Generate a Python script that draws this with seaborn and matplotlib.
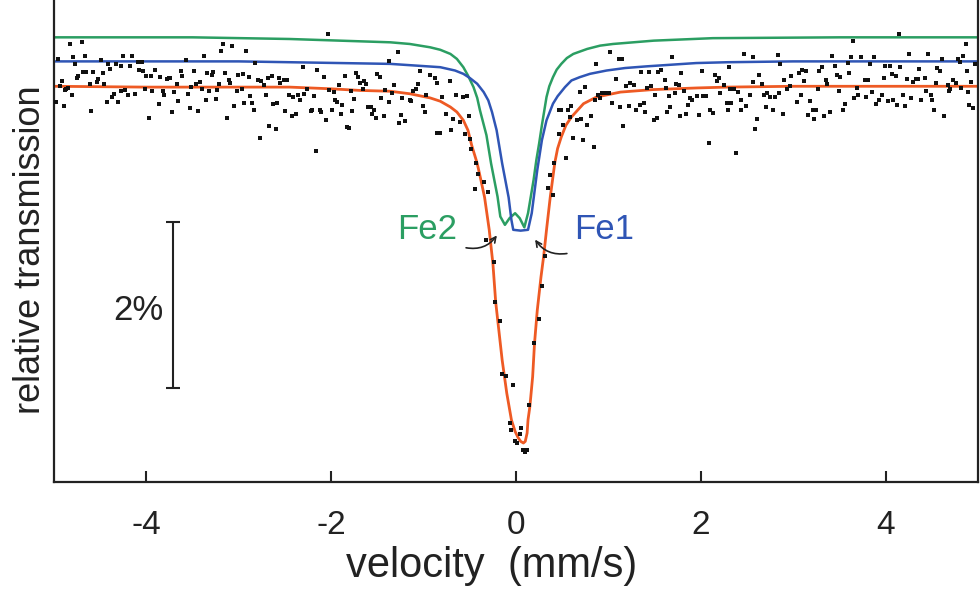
import matplotlib
matplotlib.use('Agg')
import matplotlib.pyplot as plt
import seaborn as sns
import pandas as pd

# measured spectrum: velocity (mm/s) and relative transmission (%)
vel = [
    -4.98, -4.96, -4.93, -4.91, -4.89, -4.88, -4.87, -4.85, -4.83, -4.81,
    -4.79, -4.77, -4.75, -4.74, -4.70, -4.69, -4.66, -4.65, -4.61, -4.60,
    -4.58, -4.54, -4.52, -4.49, -4.47, -4.46, -4.43, -4.42, -4.39, -4.37,
    -4.35, -4.33, -4.31, -4.28, -4.27, -4.25, -4.23, -4.20, -4.18, -4.16,
    -4.12, -4.09, -4.08, -4.05, -4.04, -4.02, -4.00, -3.97, -3.95, -3.94,
    -3.91, -3.86, -3.85, -3.82, -3.81, -3.78, -3.76, -3.74, -3.72, -3.70,
    -3.67, -3.66, -3.63, -3.62, -3.57, -3.55, -3.53, -3.52, -3.48, -3.46,
    -3.44, -3.42, -3.40, -3.38, -3.36, -3.34, -3.32, -3.29, -3.28, -3.25,
    -3.24, -3.21, -3.19, -3.17, -3.15, -3.13, -3.11, -3.09, -3.07, -3.05,
    -3.02, -3.01, -2.97, -2.96, -2.94, -2.92, -2.89, -2.88, -2.86, -2.84,
    -2.82, -2.79, -2.77, -2.76, -2.73, -2.71, -2.68, -2.67, -2.64, -2.63,
    -2.60, -2.59, -2.56, -2.55, -2.51, -2.50, -2.48, -2.46, -2.42, -2.41,
    -2.38, -2.36, -2.34, -2.31, -2.29, -2.26, -2.22, -2.21, -2.19, -2.17,
    -2.15, -2.12, -2.11, -2.08, -2.06, -2.04, -2.02, -1.99, -1.97, -1.96,
    -1.94, -1.92, -1.89, -1.88, -1.85, -1.83, -1.81, -1.79, -1.77, -1.75,
    -1.73, -1.71, -1.69, -1.66, -1.65, -1.62, -1.60, -1.57, -1.56, -1.54,
    -1.52, -1.50, -1.47, -1.46, -1.43, -1.42, -1.38, -1.37, -1.34, -1.32,
    -1.28, -1.27, -1.24, -1.23, -1.20, -1.15, -1.14, -1.12, -1.08, -1.06,
    -1.04, -1.01, -0.99, -0.97, -0.93, -0.88, -0.86, -0.85, -0.82, -0.80,
    -0.76, -0.71, -0.70, -0.68, -0.65, -0.61, -0.57, -0.55, -0.53, -0.51,
    -0.50, -0.49, -0.44, -0.43, -0.41, -0.35, -0.32, -0.30, -0.24, -0.23,
    -0.17, -0.15, -0.11, -0.06, -0.05, -0.03, -0.01, 0.01, 0.04, 0.05,
    0.08, 0.10, 0.12, 0.14, 0.20, 0.25, 0.28, 0.31, 0.35, 0.37,
    0.40, 0.41, 0.46, 0.47, 0.49, 0.51, 0.54, 0.56, 0.58, 0.60,
    0.62, 0.66, 0.69, 0.70, 0.73, 0.75, 0.77, 0.81, 0.84, 0.85,
    0.87, 0.89, 0.91, 0.93, 0.96, 1.01, 1.02, 1.04, 1.08, 1.11,
    1.13, 1.15, 1.16, 1.19, 1.22, 1.23, 1.28, 1.30, 1.34, 1.35,
    1.39, 1.40, 1.42, 1.44, 1.46, 1.49, 1.50, 1.53, 1.54, 1.57,
    1.61, 1.62, 1.63, 1.66, 1.67, 1.69, 1.72, 1.73, 1.76, 1.77,
    1.79, 1.82, 1.84, 1.86, 1.88, 1.90, 1.96, 1.98, 2.01, 2.02,
    2.06, 2.09, 2.10, 2.13, 2.15, 2.18, 2.20, 2.21, 2.25, 2.28,
    2.29, 2.30, 2.32, 2.33, 2.36, 2.38, 2.40, 2.43, 2.44, 2.47,
    2.49, 2.53, 2.56, 2.57, 2.59, 2.61, 2.63, 2.66, 2.68, 2.71,
    2.72, 2.75, 2.78, 2.80, 2.83, 2.85, 2.86, 2.89, 2.90, 2.93,
    2.97, 2.98, 3.04, 3.06, 3.08, 3.09, 3.12, 3.14, 3.16, 3.18,
    3.21, 3.23, 3.25, 3.27, 3.28, 3.31, 3.33, 3.35, 3.37, 3.40,
    3.42, 3.45, 3.47, 3.50, 3.51, 3.54, 3.56, 3.59, 3.60, 3.62,
    3.65, 3.66, 3.69, 3.70, 3.73, 3.78, 3.79, 3.81, 3.83, 3.85,
    3.87, 3.90, 3.93, 3.96, 3.98, 3.99, 4.03, 4.05, 4.07, 4.08,
    4.11, 4.12, 4.15, 4.16, 4.19, 4.21, 4.23, 4.25, 4.27, 4.30,
    4.33, 4.35, 4.36, 4.38, 4.43, 4.44, 4.46, 4.49, 4.50, 4.52,
    4.55, 4.56, 4.59, 4.61, 4.63, 4.68, 4.69, 4.70, 4.73, 4.76,
    4.78, 4.80, 4.82, 4.84, 4.87, 4.88, 4.89, 4.90, 4.92, 4.95, 4.97,
]
trans = [
    99.81, 100.33, 100.00, 100.06, 99.76, 99.96, 99.97, 99.98, 100.51, 99.90,
    100.35, 100.27, 100.10, 100.12, 100.53, 100.17, 100.37, 100.17, 100.03, 99.70,
    100.17, 100.05, 100.09, 100.32, 100.16, 100.03, 99.81, 100.27, 100.21, 99.87,
    99.91, 100.27, 99.81, 99.94, 100.24, 100.37, 99.96, 99.89, 100.25, 100.37,
    99.91, 100.29, 100.20, 100.29, 100.18, 99.97, 100.12, 99.62, 100.12, 99.94,
    100.20, 99.79, 100.11, 99.94, 99.89, 100.09, 100.10, 100.10, 99.69, 99.93,
    100.03, 99.82, 100.18, 100.12, 100.32, 99.91, 99.74, 99.99, 100.18, 100.03,
    99.70, 100.05, 99.97, 100.37, 99.83, 100.16, 99.94, 100.14, 100.17, 99.85,
    99.95, 100.03, 100.43, 100.51, 100.16, 99.62, 100.08, 100.04, 100.49, 99.76,
    99.94, 100.14, 99.97, 100.15, 99.80, 100.43, 100.11, 99.88, 99.80, 99.72,
    100.28, 100.07, 99.38, 100.06, 100.01, 99.90, 100.10, 99.52, 100.12, 99.79,
    99.49, 99.80, 100.10, 100.04, 100.08, 99.70, 100.08, 99.90, 99.64, 99.87,
    99.66, 99.89, 99.83, 100.23, 99.91, 99.97, 99.70, 99.72, 99.88, 99.22,
    100.20, 99.71, 99.69, 100.11, 99.59, 100.63, 99.95, 99.71, 99.93, 99.83,
    99.81, 100.01, 99.66, 99.77, 100.12, 99.51, 99.50, 99.94, 99.70, 99.85,
    100.16, 100.11, 100.04, 99.97, 100.06, 100.03, 99.75, 99.75, 99.66, 99.72,
    99.62, 100.15, 100.11, 99.86, 99.64, 99.96, 99.81, 100.31, 99.92, 100.01,
    100.41, 99.56, 99.65, 99.86, 99.58, 99.83, 99.82, 99.94, 99.97, 100.03,
    100.18, 99.76, 99.69, 99.90, 100.14, 100.10, 99.44, 100.04, 99.44, 99.87,
    99.67, 100.06, 99.47, 99.60, 99.90, 99.57, 99.87, 99.43, 99.88, 99.64,
    99.36, 99.24, 98.76, 99.07, 98.94, 98.85, 98.15, 98.73, 97.88, 97.40,
    97.17, 96.53, 96.51, 95.94, 95.86, 96.40, 95.73, 95.70, 95.81, 95.88,
    95.61, 95.59, 95.61, 96.16, 96.91, 97.20, 97.59, 97.96, 98.77, 98.93,
    98.69, 99.08, 99.72, 99.43, 99.72, 99.53, 99.13, 99.71, 99.63, 99.76,
    99.38, 99.59, 99.93, 99.61, 99.35, 99.99, 99.53, 99.64, 99.27, 99.83,
    100.27, 99.90, 99.86, 99.92, 99.92, 99.92, 100.41, 99.80, 100.09, 100.33,
    99.75, 100.33, 99.52, 100.00, 99.76, 100.04, 100.02, 99.72, 99.78, 100.17,
    99.80, 99.69, 99.98, 100.17, 100.00, 99.59, 99.90, 99.62, 100.17, 100.20,
    100.07, 99.98, 99.69, 99.88, 99.75, 100.35, 99.92, 100.03, 100.01, 99.64,
    100.16, 99.94, 99.66, 99.78, 99.86, 99.83, 99.88, 99.65, 100.18, 99.88,
    99.88, 99.32, 99.71, 99.68, 100.14, 100.06, 100.10, 99.92, 100.01, 99.80,
    99.72, 100.23, 99.97, 99.80, 99.97, 99.20, 99.93, 99.72, 99.83, 100.39,
    99.76, 99.90, 100.35, 100.05, 99.48, 99.61, 100.14, 100.03, 99.90, 99.75,
    99.92, 99.87, 99.72, 99.87, 100.38, 99.92, 100.27, 99.66, 100.07, 99.97,
    100.00, 100.12, 99.81, 100.16, 99.90, 100.20, 100.06, 100.18, 99.65, 99.82,
    99.72, 99.60, 99.72, 99.97, 100.18, 100.23, 99.64, 100.08, 100.03, 99.69,
    100.37, 100.25, 100.14, 99.94, 100.11, 99.72, 99.79, 100.28, 100.16, 100.35,
    100.55, 99.86, 99.98, 99.89, 100.35, 100.07, 99.87, 100.07, 100.27, 99.93,
    100.35, 99.79, 99.83, 99.90, 100.10, 100.25, 99.82, 100.25, 100.15, 99.83,
    100.12, 99.77, 100.63, 100.23, 99.90, 99.76, 100.09, 100.39, 99.86, 100.05,
    100.09, 100.09, 100.21, 99.84, 100.10, 99.94, 100.39, 99.89, 99.83, 99.71,
    100.04, 100.22, 100.18, 100.33, 99.64, 100.01, 99.94, 99.97, 100.07, 100.04,
    100.33, 100.29, 99.98, 100.37, 100.51, 100.19, 99.93, 99.77, 100.05, 99.74, 100.27,
]

# fitted curves
total_v = [-5.0, -4.0, -3.0, -2.45, -2.01, -1.69, -1.36, -1.15, -0.93, -0.82,
           -0.71, -0.64, -0.57, -0.52, -0.48, -0.42, -0.38, -0.34, -0.29, -0.25,
           -0.22, -0.15, -0.10, -0.05, -0.01, 0.02, 0.05, 0.08, 0.10, 0.12,
           0.13, 0.15, 0.18, 0.20, 0.23, 0.27, 0.30, 0.33, 0.37, 0.42,
           0.45, 0.49, 0.54, 0.60, 0.73, 0.87, 1.13, 1.48, 1.96, 2.28,
           3.0, 4.0, 5.0]
total_t = [100.00, 99.99, 99.99, 99.99, 99.97, 99.95, 99.94, 99.91, 99.86, 99.82,
           99.75, 99.69, 99.59, 99.47, 99.29, 99.07, 98.87, 98.66, 98.27, 97.86,
           97.40, 96.70, 96.30, 95.98, 95.84, 95.77, 95.72, 95.70, 95.72, 95.82,
           95.98, 96.14, 96.50, 96.90, 97.30, 97.70, 97.96, 98.27, 98.66, 99.08,
           99.25, 99.39, 99.53, 99.63, 99.79, 99.87, 99.93, 99.96, 99.98, 99.99,
           100.00, 100.00, 100.00]

fe1_v = [-5.0, -3.0, -2.45, -1.36, -0.82, -0.66, -0.57, -0.50, -0.42, -0.35,
         -0.30, -0.26, -0.21, -0.15, -0.08, -0.05, -0.03, 0.05, 0.13, 0.17,
         0.23, 0.28, 0.33, 0.40, 0.45, 0.53, 0.60, 0.69, 0.80, 0.98,
         1.18, 1.41, 1.95, 2.29, 3.0, 5.0]
fe1_t = [100.30, 100.30, 100.29, 100.27, 100.23, 100.19, 100.15, 100.10, 100.03, 99.93,
         99.83, 99.69, 99.47, 99.07, 98.66, 98.39, 98.27, 98.26, 98.27, 98.47,
         98.99, 99.35, 99.59, 99.79, 99.88, 99.99, 100.07, 100.11, 100.15, 100.19,
         100.22, 100.24, 100.28, 100.29, 100.30, 100.30]

fe2_v = [-5.0, -3.5, -2.45, -1.36, -1.15, -0.93, -0.82, -0.71, -0.64, -0.57,
         -0.52, -0.46, -0.42, -0.39, -0.32, -0.27, -0.20, -0.17, -0.12, -0.07,
         -0.01, 0.04, 0.09, 0.13, 0.19, 0.22, 0.25, 0.28, 0.33, 0.36,
         0.40, 0.44, 0.49, 0.55, 0.62, 0.77, 0.91, 1.05, 1.49, 2.13,
         3.5, 5.0]
fe2_t = [100.59, 100.59, 100.57, 100.53, 100.51, 100.47, 100.44, 100.39, 100.33, 100.23,
         100.13, 99.99, 99.86, 99.71, 99.41, 99.07, 98.67, 98.43, 98.33, 98.41,
         98.47, 98.41, 98.30, 98.47, 98.87, 99.11, 99.31, 99.53, 99.87, 100.00,
         100.11, 100.20, 100.27, 100.34, 100.39, 100.45, 100.49, 100.51, 100.55, 100.58,
         100.59, 100.59]

xtick_vals = [-4, -2, 0, 2, 4]
xtick_labels = ['-4', '-2', '0', '2', '4']
scale_pct = 2.0

ORANGE = '#ee5a24'
BLUE = '#2f55b5'
GREEN = '#2b9e62'
INK = '#222222'

sns.set_style('ticks')
plt.rcParams['font.family'] = ['Liberation Sans', 'DejaVu Sans']

fig = plt.figure(figsize=(9.8, 5.91), dpi=100)
ax = fig.add_axes([0.0551, 0.1844, 0.9429, 0.8156])

pts = pd.DataFrame({'velocity': vel, 'transmission': trans})
sns.lineplot(x=fe2_v, y=fe2_t, color=GREEN, lw=1.8, estimator=None, sort=False, ax=ax, zorder=2)
sns.lineplot(x=fe1_v, y=fe1_t, color=BLUE, lw=1.8, estimator=None, sort=False, ax=ax, zorder=2)
sns.lineplot(x=total_v, y=total_t, color=ORANGE, lw=2.0, estimator=None, sort=False, ax=ax, zorder=2)
sns.scatterplot(data=pts, x='velocity', y='transmission', marker='s', s=5,
                color='#111111', linewidth=0, ax=ax, zorder=3)

ax.set_xlim(-5, 5)
ax.set_ylim(95.23, 101.04)
ax.set_xticks(xtick_vals, xtick_labels)
ax.set_yticks([])
ax.tick_params(axis='x', direction='in', length=8, width=1.5, pad=20,
               labelsize=24, colors=INK)
for side in ['left', 'bottom', 'right']:
    ax.spines[side].set_linewidth(1.6)
    ax.spines[side].set_color(INK)
ax.spines['top'].set_visible(False)

ax.set_xlabel('velocity  (mm/s)', fontsize=30, color=INK)
ax.set_ylabel('relative transmission', fontsize=26, color=INK)
ax.xaxis.set_label_coords(0.474, -0.133)
ax.xaxis.label.set_va('top')
ax.yaxis.set_label_coords(-0.006, 0.483)

# 2 % scale bar
ax.errorbar([-3.71], [97.365], yerr=[scale_pct / 2], color=INK, lw=1.5,
            capsize=5, capthick=1.5)
ax.text(-4.09, 97.30, '2%', fontsize=25, color=INK, ha='center', va='center')

ax.text(-0.96, 98.27, 'Fe2', fontsize=25, color=GREEN, ha='center', va='center')
ax.text(0.95, 98.27, 'Fe1', fontsize=25, color=BLUE, ha='center', va='center')
ax.annotate('', xy=(-0.19, 98.23), xytext=(-0.57, 98.06),
            arrowprops=dict(arrowstyle='->', color=INK, lw=1.2,
                            connectionstyle='arc3,rad=0.35'))
ax.annotate('', xy=(0.19, 98.18), xytext=(0.58, 97.99),
            arrowprops=dict(arrowstyle='->', color=INK, lw=1.2,
                            connectionstyle='arc3,rad=-0.35'))

fig.savefig('out.png', dpi=100)
